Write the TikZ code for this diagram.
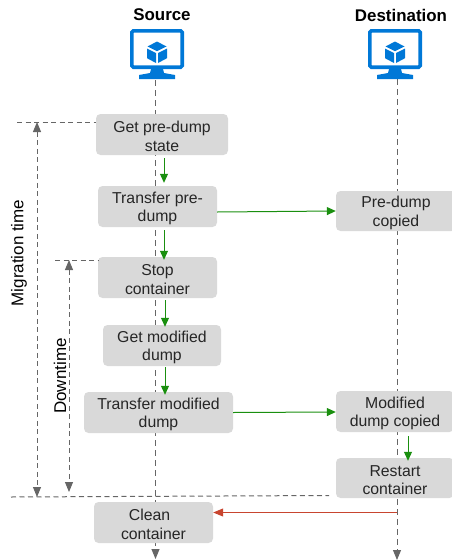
\documentclass[tikz,border=0pt]{standalone}
\usepackage{fontspec}
\setmainfont{Liberation Sans}
\usetikzlibrary{arrows.meta}
\definecolor{boxgray}{HTML}{D9D9D9}
\definecolor{iconblue}{HTML}{0078D7}
\definecolor{linegray}{HTML}{666666}
\definecolor{flowgreen}{HTML}{1A8F0F}
\definecolor{backred}{HTML}{C8452F}
\newcommand\topfix{\rule{0pt}{15.5pt}}
\tikzset{
  stepbox/.style={fill=boxgray,rounded corners=4.5pt,inner sep=0pt,align=center,
    font=\fontsize{15.8}{18.6}\selectfont,text=black!85},
  lifeline/.style={draw=linegray,line width=1pt,dash pattern=on 6pt off 4pt},
  guide/.style={draw=linegray,line width=1pt,dash pattern=on 5pt off 3.5pt},
  grayhead/.style={-{Triangle[length=10pt,width=8pt,fill=linegray]}},
  flow/.style={draw=flowgreen,line width=1pt,-{Triangle[length=9pt,width=8pt,fill=flowgreen]}},
  back/.style={draw=backred,line width=1pt,-{Triangle[length=10pt,width=8pt,fill=backred]}},
  headtext/.style={font=\bfseries\fontsize{16.9}{20}\selectfont,inner sep=0pt},
  sidetext/.style={font=\fontsize{17}{20}\selectfont,rotate=90,inner sep=0pt},
  monitor/.pic={
    \draw[iconblue,line width=3.6pt,rounded corners=1.5pt] (-25.2,-23.2) rectangle (25.2,13.2);
    \fill[iconblue] (-6,15) -- (6,15) -- (7,19) -- (18,21) -- (18,25) -- (-18,25) -- (-18,21) -- (-7,19) -- cycle;
    \fill[iconblue] (0,-12.5) -- (9.5,-7.5) -- (0,-2.8) -- (-9.5,-7.5) -- cycle;
    \fill[iconblue] (-10,-5.5) -- (-1,-1) -- (-1,9) -- (-10,4.2) -- cycle;
    \fill[iconblue] (10,-5.5) -- (1,-1) -- (1,9) -- (10,4.2) -- cycle;
  }
}
\begin{document}
\begin{tikzpicture}[x=1pt,y=-1pt]
\useasboundingbox (0,0) rectangle (451,560);
% coordinates for free ends
\coordinate (srcTop) at (155.5,80);
\coordinate (srcEnd) at (155.5,559);
\coordinate (dstTop) at (397,79);
\coordinate (dstEnd) at (397,560);
\coordinate (migTop) at (37,122);
\coordinate (migBot) at (37,497);
\coordinate (downTop) at (69,260);
\coordinate (downBot) at (69,492);
\coordinate (migL) at (17,122);
\coordinate (downL) at (55,260);
\coordinate (endL) at (11,497);
\coordinate (endR) at (329,495.5);
\coordinate (redStart) at (397,512.5);
% lifelines
\draw[lifeline,grayhead] (srcTop) -- (srcEnd);
\draw[lifeline,grayhead] (dstTop) -- (dstEnd);
% headers and icons
\node[headtext] (hsrc) at (162,15) {Source};
\node[headtext] (hdst) at (401,15) {Destination};
\pic at (157,54) {monitor};
\pic at (395,54) {monitor};
% boxes
\node[stepbox,minimum width=132pt,minimum height=41pt] (a) at (162,134.5) {\topfix Get pre-dump\\state};
\node[stepbox,minimum width=119pt,minimum height=41pt] (b) at (157.5,206.5) {\topfix Transfer pre-\\dump};
\node[stepbox,minimum width=119pt,minimum height=41pt] (c) at (157.5,277.5) {\topfix Stop\\container};
\node[stepbox,minimum width=118pt,minimum height=41pt] (d) at (162,345.5) {\topfix Get modified\\dump};
\node[stepbox,minimum width=149pt,minimum height=41pt] (e) at (158.5,412.5) {\topfix Transfer modified\\dump};
\node[stepbox,minimum width=119pt,minimum height=41pt] (f) at (153.5,522.5) {\topfix Clean\hspace*{8pt}\\container};
\node[stepbox,minimum width=120pt,minimum height=40pt] (g) at (396,211) {\topfix Pre-dump\\copied};
\node[stepbox,minimum width=118pt,minimum height=41pt] (h) at (395,411.5) {\topfix Modified\\dump copied};
\node[stepbox,minimum width=118pt,minimum height=40pt] (i) at (395,478) {\topfix Restart\\container};
% flow arrows between boxes
\draw[flow] ([xshift=2pt,yshift=-3pt]a.south) -- ([xshift=6.5pt,yshift=3pt]b.north);
\draw[flow] ([xshift=6.5pt,yshift=-3pt]b.south) -- ([xshift=6.5pt,yshift=-3pt]c.north);
\draw[flow] ([xshift=7.5pt,yshift=-2pt]c.south) -- ([xshift=3pt,yshift=-2pt]d.north);
\draw[flow] ([xshift=3pt,yshift=-1pt]d.south) -- ([xshift=6.5pt,yshift=-3pt]e.north);
\draw[flow] ([xshift=13pt,yshift=-4pt]h.south) -- ([xshift=13pt,yshift=-3pt]i.north);
\draw[flow] ([yshift=-5.5pt]b.east) -- ([yshift=0pt]g.west);
\draw[flow] (e.east) -- ([yshift=-0.5pt]h.west);
\draw[back] (redStart) -- (f.east |- redStart);
% time guides
\draw[guide] (migL) -- (a.west |- migL);
\draw[guide] (downL) -- (c.west |- downL);
\draw[guide] (endL) -- (endR);
\draw[guide,{Triangle[length=10pt,width=8pt,fill=linegray]}-{Triangle[length=10pt,width=8pt,fill=linegray]}] (migTop) -- (migBot);
\draw[guide,{Triangle[length=10pt,width=8pt,fill=linegray]}-{Triangle[length=10pt,width=8pt,fill=linegray]}] (downTop) -- (downBot);
\node[sidetext] (mig) at (19,253) {Migration time};
\node[sidetext] (down) at (60,376) {Downtime};
\end{tikzpicture}
\end{document}
